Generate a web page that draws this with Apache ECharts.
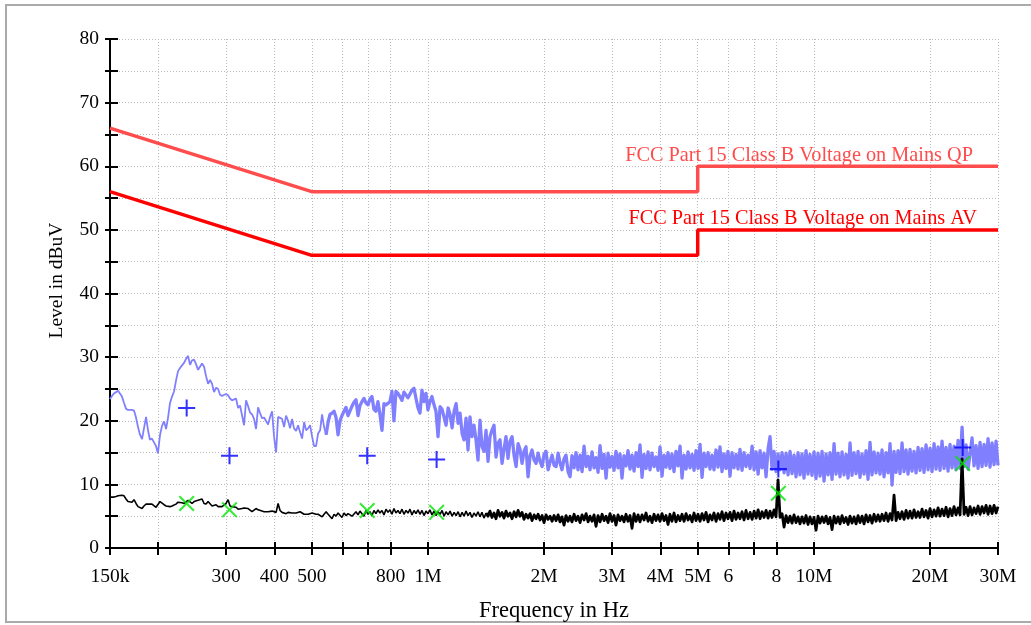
<!DOCTYPE html>
<html>
<head>
<meta charset="utf-8">
<script src="https://cdn.jsdelivr.net/npm/echarts@6/dist/echarts.min.js"></script>
<style>
html,body{margin:0;padding:0;background:#fff;}
#chart{width:1031px;height:625px;}
</style>
</head>
<body>
<div id="chart"></div>
<script>
// ---- Data (frequency in kHz, levels in dBuV) ----
const tickKHz = [150,200,300,400,500,600,700,800,1000,2000,3000,4000,5000,6000,7000,8000,10000,20000,30000];
const tickText = ['150k','','300','400','500','','','800','1M','2M','3M','4M','5M','6','','8','10M','20M','30M'];

const qpLimit = [[150,66],[500,56],[5000,56],[5000,60],[30000,60]];
const avLimit = [[150,56],[500,46],[5000,46],[5000,50],[30000,50]];

const qpMarkers = [[237,22.0],[306,14.5],[696,14.5],[1053,13.9],[8090,12.4],[24300,15.8]];
const avMarkers = [[237,7.0],[306,6.0],[696,5.9],[1053,5.6],[8090,8.6],[24300,13.3]];

const freqKHz = [
150,151.8,153.6,155.5,157.4, 159.2,161.1,163.1,165.0,167.0,
169.0,171.0,173.1,175.2,177.3, 179.4,181.6,183.7,186.0,188.2,
190.4,192.7,195.0,197.4,199.7, 202.2,204.6,207.1,209.6,212.1,
214.6,217.2,219.8,222.4,225.1, 227.8,230.5,233.3,236.1,239.0,
241.8,244.7,247.7,250.6,253.7, 256.7,259.8,262.9,266.1,269.3,
272.5,275.8,279.1,282.5,285.9, 289.2,292.7,296.2,299.8,303.4,
307.0,310.7,314.4,318.2,322.1, 325.9,329.8,333.8,337.8,341.9,
345.9,350.1,354.3,358.5,362.9, 367.2,371.6,376.1,380.6,385.2,
389.8,394.5,399.2,404.1,408.9, 413.8,418.8,423.8,428.9,434.1,
439.2,444.5,449.8,455.3,460.7, 466.3,471.9,477.6,483.3,489.2,
494.9,500.9,506.9,513.0,519.2, 525.4,531.7,538.1,544.6,551.2,
557.5,564.2,571.0,577.9,584.8, 591.7,598.8,606.0,613.3,620.7,
628.0,635.6,643.2,651.0,658.8, 666.5,674.5,682.6,690.9,699.2,
707.4,715.9,724.5,733.3,742.1, 751.0,760.0,769.2,778.5,787.8,
797.1,806.7,816.4,826.2,836.2, 846.2,856.4,866.7,877.1,887.7,
898.3,909.1,920.1,931.1,942.4, 953.5,965.0,976.6,988.4,1000,
1012,1024,1037,1049,1062, 1075,1088,1101,1114,1128,
1141,1155,1169,1183,1197, 1211,1226,1240,1255,1270,
1285,1300,1316,1332,1348, 1364,1380,1397,1414,1431,
1448,1465,1483,1501,1519, 1537,1556,1574,1593,1612,
1632,1652,1672,1692,1712, 1732,1753,1774,1795,1817,
1839,1861,1884,1906,1929, 1952,1976,1999,2023,2048,
2072,2097,2122,2148,2174, 2199,2225,2252,2279,2307,
2334,2362,2391,2419,2448, 2478,2508,2538,2569,2600,
2630,2662,2694,2726,2759, 2792,2826,2860,2894,2929,
2963,2999,3035,3071,3108, 3145,3183,3221,3260,3299,
3339,3379,3420,3461,3503, 3544,3587,3630,3674,3718,
3762,3807,3853,3899,3946, 3993,4041,4090,4139,4189,
4238,4289,4341,4393,4446, 4500,4554,4609,4665,4721,
4776,4834,4892,4951,5010, 5070,5131,5193,5255,5319,
5381,5446,5511,5578,5645, 5711,5780,5849,5920,5991,
6063,6136,6210,6285,6360, 6436,6514,6592,6671,6752,
6835,6917,7001,7085,7170, 7254,7341,7430,7519,7610,
7698,7791,7885,7979,8076, 8173,8271,8371,8472,8574,
8674,8778,8884,8991,9099, 9206,9317,9429,9543,9658,
9772,9890,10009,10129,10251, 10375,10500,10626,10754,10884,
11013,11146,11280,11416,11553, 11689,11830,11972,12116,12262,
12408,12557,12709,12862,13016, 13170,13329,13489,13652,13816,
13980,14148,14319,14491,14666, 14838,15017,15197,15380,15566,
15753,15943,16134,16329,16525, 16722,16923,17127,17333,17542,
17749,17963,18179,18398,18620, 18840,19067,19296,19529,19764,
20000,20241,20485,20731,20981, 21227,21483,21741,22003,22268,
22532,22803,23078,23356,23637, 23922,24210,24502,24797,25096,
25391,25697,26006,26319,26636, 26952,27277,27605,27937,28274,
28608,28953,29301,29654,30000
];

const peakLevel = [
23.4,23.9,24.3,24.5,24.7, 24.6,23.8,22.8,21.9,21.7,
21.6,21.7,21.6,20.5,19.0, 17.8,17.1,18.8,20.6,18.5,
17.0,17.2,17.1,16.0,14.9, 17.8,19.2,19.9,18.7,20.5,
22.8,23.8,24.6,26.3,27.8, 28.3,28.7,29.1,29.7,30.2,
28.8,29.5,29.6,28.9,28.0, 27.8,29.0,28.5,27.0,25.8,
26.4,25.8,24.5,25.2,25.0, 24.1,23.9,23.9,24.2,24.0,
23.5,23.2,23.1,23.5,22.0, 22.4,22.6,19.3,23.2,22.3,
21.3,21.0,20.3,18.7,22.1, 21.2,20.4,20.5,20.6,19.4,
20.6,21.5,17.5,15.0,20.6, 20.5,20.3,19.0,20.8,20.0,
18.8,20.3,18.8,18.4,19.3, 18.2,17.2,19.8,18.5,18.8,
19.3,17.5,16.0,16.0,18.0, 18.5,21.0,19.0,17.8,19.8,
21.0,21.2,21.5,20.5,17.8, 20.0,20.8,21.5,22.1,20.8,
20.5,22.3,22.9,23.3,20.8, 22.4,23.0,23.5,22.8,22.5,
23.4,23.8,21.8,21.5,23.0, 21.0,18.5,22.7,22.5,22.8,
23.0,24.6,20.0,24.6,24.3, 23.8,23.2,24.5,24.8,23.6,
24.2,24.8,25.1,23.5,22.0, 21.2,24.8,23.0,24.3,21.7,
23.0,23.8,22.5,21.5,17.5, 22.2,21.8,21.5,19.3,22.0,
21.0,18.9,21.5,22.7,19.6, 21.2,18.0,17.0,20.4,15.4,
20.6,17.5,19.3,17.0,13.8, 20.1,16.0,15.2,18.5,13.6,
17.5,18.5,19.3,14.3,16.5, 17.0,13.3,15.5,17.5,14.1,
16.8,17.5,14.5,12.8,16.4, 15.5,13.3,15.2,15.9,11.2,
14.5,15.4,13.8,13.3,14.9, 13.6,12.8,14.7,15.2,12.3,
13.5,14.6,13.0,12.8,14.9, 13.4,12.3,14.0,14.6,12.0,
11.2,14.5,12.6,15.0,12.3, 14.6,12.0,16.0,12.8,14.4,
12.3,15.1,12.6,14.2,11.9, 16.1,12.5,14.7,11.0,14.9,
12.7,14.4,12.2,15.2,12.6, 14.8,11.0,14.5,12.9,15.3,
12.4,14.6,12.1,15.0,12.8, 16.2,11.1,14.7,12.5,15.1,
12.3,14.9,12.8,14.3,12.2, 15.9,11.3,14.6,12.7,15.0,
12.5,14.8,12.0,15.2,12.9, 16.0,11.0,14.6,12.4,15.1,
12.6,14.7,12.2,15.3,12.5, 16.3,11.1,14.9,12.8,15.0,
12.4,14.6,12.3,15.4,12.7, 15.9,12.0,14.8,12.5,15.2,
11.3,15.0,12.6,14.7,12.4, 15.5,12.2,15.0,12.8,14.6,
12.5,16.0,12.3,15.1,11.6, 15.3,12.6,14.9,11.2,15.6,
17.5,12.4,15.2,12.0,14.8, 12.3,15.0,11.8,14.9,11.5,
15.2,11.7,14.6,11.2,15.0, 11.5,14.8,11.0,15.3,11.6,
14.7,11.4,15.1,10.9,14.9, 11.3,15.2,10.5,14.8,11.5,
15.0,10.8,16.4,11.6,14.9, 11.2,15.1,11.5,14.7,11.0,
16.5,11.4,15.0,11.7,15.2, 11.1,14.8,11.6,15.3,10.8,
16.6,11.5,15.1,11.8,14.9, 11.6,15.4,11.2,15.0,11.8,
16.4,9.9,15.2,11.9,15.3, 11.7,16.5,12.0,15.4,11.6,
15.5,12.1,15.2,11.8,15.8, 12.2,15.6,11.9,16.2,12.3,
15.7,12.0,16.4,12.4,15.9, 12.2,16.8,12.5,15.8,12.1,
16.3,12.6,16.0,12.3,16.9, 12.5,19.0,12.8,16.2,12.4,
12.6,17.3,12.9,16.1,12.5, 16.6,12.8,16.3,13.0,17.2,
12.7,16.5,13.1,16.8,13.0
];

const avgLevel = [
8.0,8.0,8.0,8.1,8.2, 8.3,8.3,8.2,7.7,7.3,
7.0,7.2,7.6,7.0,6.5, 6.3,6.2,6.6,6.9,6.9,
6.9,6.9,6.8,6.4,6.3, 7.3,7.0,6.8,6.6,6.5,
6.5,6.6,6.8,6.9,7.2, 7.3,7.1,7.0,7.3,7.5,
7.2,7.0,7.3,7.5,7.5, 7.6,7.7,7.0,6.9,7.3,
7.0,6.6,6.8,6.8,6.5, 6.2,6.5,6.8,7.0,7.6,
6.6,6.5,6.5,6.4,6.1, 5.9,6.2,6.3,6.2,6.2,
6.0,5.7,5.9,6.2,6.0, 5.9,5.8,5.7,5.5,5.7,
5.9,5.8,5.5,5.6,7.0, 5.9,5.6,5.5,5.4,5.6,
5.7,5.5,5.4,5.5,5.6, 5.7,5.5,5.3,5.4,5.3,
5.3,5.5,5.4,5.3,5.3, 5.1,4.9,5.3,5.7,5.3,
5.0,4.6,5.3,5.0,5.5, 5.2,4.8,5.5,5.1,5.4,
5.6,5.0,5.3,5.7,5.2, 5.8,5.4,5.0,5.9,5.3,
5.7,5.1,5.9,5.4,6.0, 5.5,5.9,5.2,6.1,5.6,
6.0,5.3,6.2,5.5,5.9, 5.4,6.1,5.3,5.9,5.5,
6.1,5.2,5.9,5.4,6.0, 5.3,5.9,5.1,5.8,5.4,
6.0,5.2,5.8,5.1,5.7, 5.3,5.9,5.0,5.7,5.2,
5.8,5.0,5.6,5.1,5.7, 4.9,5.6,5.0,5.8,5.1,
5.6,4.8,5.5,5.0,5.7, 4.9,5.6,4.7,5.5,5.0,
5.8,4.8,5.5,4.6,5.9, 5.0,5.6,4.7,5.8,5.0,
5.5,4.6,5.7,4.9,5.9, 5.0,5.6,4.5,5.3,4.7,
5.4,4.3,5.2,4.6,5.3, 4.4,5.1,4.0,5.2,4.5,
5.0,4.2,5.1,4.3,5.2, 4.1,4.9,3.6,5.1,4.2,
5.0,4.1,5.3,4.3,5.0, 4.0,5.2,4.4,5.4,4.1,
5.0,4.2,5.2,3.4,5.1, 4.1,5.3,4.3,5.0,4.0,
5.4,4.2,5.1,3.6,5.2, 4.3,5.0,4.1,5.3,4.2,
5.1,3.1,5.4,4.2,5.2, 4.1,5.2,4.4,5.5,4.2,
5.0,4.0,5.3,4.3,5.2, 4.2,5.4,4.3,5.1,3.7,
5.3,4.2,5.5,4.1,5.1, 4.3,5.3,4.2,5.4,4.4,
5.1,4.1,5.5,4.3,5.3, 4.2,5.4,4.4,5.6,4.1,
5.2,4.4,5.5,4.2,5.4, 4.5,5.7,4.3,5.5,4.6,
5.6,4.3,5.8,4.5,5.5, 4.6,5.7,4.4,5.9,4.6,
5.6,4.5,5.8,4.7,6.0, 4.6,5.7,4.8,5.9,4.7,
5.8,4.8,6.0,4.9,10.7, 4.8,5.4,3.3,5.1,4.0,
5.0,3.9,5.2,4.0,4.9, 3.8,4.9,3.9,5.1,3.7,
4.9,3.8,4.8,2.8,5.0, 3.9,4.9,4.0,5.0,3.8,
4.8,2.9,5.0,3.9,4.9, 3.8,5.1,4.0,4.8,3.7,
5.0,3.9,4.9,3.8,5.1, 4.0,5.0,3.8,5.2,4.1,
5.1,3.9,5.3,4.2,5.2, 4.2,5.3,4.3,5.5,4.2,
5.4,4.4,8.3,4.3,5.6, 4.6,5.7,4.5,5.9,4.7,
5.8,4.7,6.0,4.8,5.7, 4.8,6.1,4.9,5.9,4.7,
6.2,4.9,6.0,5.0,6.3, 5.0,6.1,5.1,6.4,4.9,
6.2,5.1,6.5,5.2,6.3, 5.2,14.0,5.3,6.4,5.1,
6.5,5.2,6.3,5.4,6.6, 5.3,6.5,5.5,6.7,5.3,
6.6,5.4,6.7,5.5,6.5
];

const qpLabel = 'FCC Part 15 Class B Voltage on Mains QP';
const avLabel = 'FCC Part 15 Class B Voltage on Mains AV';

// ---- Build chart ----
const FONT = '"Liberation Serif","Times New Roman",serif';
const pair = (f, v) => f.map((x, i) => [x, v[i]]);
const peakData = pair(freqKHz, peakLevel);
const avgData = pair(freqKHz, avgLevel);
// the sweep becomes a dense band above ~540 kHz (peak) and ~1.4 MHz (average)
const peakSplit = freqKHz.findIndex(f => f >= 540);
const avgSplit = freqKHz.findIndex(f => f >= 1400);

function tickLabel(v) {
  const i = tickKHz.findIndex(t => Math.abs(t - v) / t < 1e-6);
  return i >= 0 ? tickText[i] : '';
}

const plusPath = 'path://M0,44H44V0H56V44H100V56H56V100H44V56H0Z';
const crossPath = 'path://M0,9L9,0L50,41L91,0L100,9L59,50L100,91L91,100L50,59L9,100L0,91L41,50Z';

const baseX = {type: 'log', min: 150, max: 30000, logBase: 10, gridIndex: 0, position: 'bottom'};
const baseY = {type: 'value', min: 0, max: 80, interval: 5, position: 'left'};

const chart = echarts.init(document.getElementById('chart'), null, {renderer: 'canvas'});
chart.setOption({
  animation: false,
  backgroundColor: '#fff',
  grid: {left: 110, right: 33, top: 39, bottom: 77, containLabel: false, outerBoundsMode: 'none'},
  xAxis: [
    Object.assign({}, baseX, {
      name: 'Frequency in Hz', nameLocation: 'middle', nameGap: 52,
      nameTextStyle: {fontFamily: FONT, fontSize: 22.5, color: '#000'},
      axisLine: {show: true, onZero: false, lineStyle: {color: '#000', width: 2}},
      axisTick: {show: true, customValues: tickKHz, inside: false, length: 7, lineStyle: {color: '#000', width: 2}},
      axisLabel: {show: true, customValues: tickKHz, formatter: tickLabel, margin: 19,
        fontFamily: FONT, fontSize: 19.5, color: '#000'},
      splitLine: {show: true, lineStyle: {color: '#bbb', width: 1, type: [1, 2]}},
      minorTick: {show: false}, minorSplitLine: {show: false}
    }),
    Object.assign({}, baseX, {
      axisLine: {show: false, onZero: false},
      axisTick: {show: true, customValues: tickKHz, inside: true, length: 6, lineStyle: {color: '#000', width: 2}},
      axisLabel: {show: false},
      splitLine: {show: false}
    })
  ],
  yAxis: [
    Object.assign({}, baseY, {
      name: 'Level in dBuV', nameLocation: 'middle', nameGap: 43, nameRotate: 90,
      nameTextStyle: {fontFamily: FONT, fontSize: 19.5, color: '#000', padding: [0, 0, 0, 26]},
      axisLine: {show: true, onZero: false, lineStyle: {color: '#000', width: 2}},
      axisTick: {show: true, inside: false, length: 5, lineStyle: {color: '#000', width: 2}},
      axisLabel: {show: true, margin: 11, fontFamily: FONT, fontSize: 19.5, color: '#000',
        formatter: v => (v % 10 === 0 ? String(v) : '')},
      splitLine: {show: true, lineStyle: {color: '#bbb', width: 1, type: [1, 2]}}
    }),
    Object.assign({}, baseY, {
      axisLine: {show: false, onZero: false},
      axisTick: {show: true, inside: true, length: 8, lineStyle: {color: '#000', width: 2}},
      axisLabel: {show: false},
      splitLine: {show: false}
    })
  ],
  graphic: [
    {type: 'rect', z: -10, silent: true,
      shape: {x: 6, y: 5, width: 1100, height: 617},
      style: {fill: 'none', stroke: '#aaaaaa', lineWidth: 2}},
    {type: 'text', z: 100, silent: true,
      style: {text: qpLabel, x: 973, y: 156, align: 'right', verticalAlign: 'middle',
        font: '20.3px ' + FONT, fill: '#ff4d4d'}},
    {type: 'text', z: 100, silent: true,
      style: {text: avLabel, x: 977, y: 219, align: 'right', verticalAlign: 'middle',
        font: '20.3px ' + FONT, fill: '#ff0000'}}
  ],
  series: [
    {name: 'Peak', type: 'line', data: peakData.slice(0, peakSplit + 1), showSymbol: false,
      lineStyle: {color: '#8080ff', width: 1.8}, z: 2},
    {name: 'Peak', type: 'line', data: peakData.slice(peakSplit), showSymbol: false,
      lineStyle: {color: '#8080ff', width: 3.3, join: 'round'}, z: 2},
    {name: 'Average', type: 'line', data: avgData.slice(0, avgSplit + 1), showSymbol: false,
      lineStyle: {color: '#000000', width: 1.6}, z: 3},
    {name: 'Average', type: 'line', data: avgData.slice(avgSplit), showSymbol: false,
      lineStyle: {color: '#000000', width: 2.8, join: 'round'}, z: 3},
    {name: 'QP limit', type: 'line', data: qpLimit, showSymbol: false,
      lineStyle: {color: '#ff4d4d', width: 3.5}, z: 4},
    {name: 'AV limit', type: 'line', data: avLimit, showSymbol: false,
      lineStyle: {color: '#ff0000', width: 3.5}, z: 4},
    {name: 'QP', type: 'scatter', data: qpMarkers, symbol: plusPath, symbolSize: 17,
      itemStyle: {color: '#0000ff'}, z: 6},
    {name: 'AV', type: 'scatter', data: avMarkers, symbol: crossPath, symbolSize: 16,
      itemStyle: {color: '#00e600'}, z: 6}
  ]
});
</script>
</body>
</html>
